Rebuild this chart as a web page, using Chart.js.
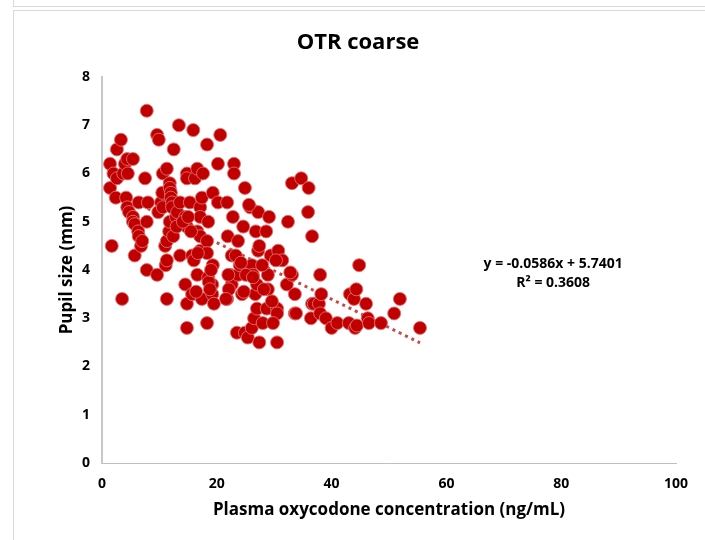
<!DOCTYPE html>
<html>
<head>
<meta charset="utf-8">
<script src="https://cdn.jsdelivr.net/npm/chart.js@4.4.0/dist/chart.umd.min.js"></script>
<style>
  body { margin: 0; background: #fff; }
  #prev { position: absolute; left: 13px; top: -10px; width: 700px; height: 15px; border: 1px solid #d9d9d9; }
  #box { position: absolute; left: 13px; top: 10px; width: 700px; height: 540px; border: 1px solid #d9d9d9; }
  #wrap { position: absolute; left: 13px; top: 10px; width: 690px; height: 530px; }
</style>
</head>
<body>
<div id="prev"></div>
<div id="box"></div>
<div id="wrap"><canvas id="scatterCanvas" width="690" height="530"></canvas></div>
<script>
// valeurs
const concentration = [
  1.4, 1.4, 1.7, 2.0, 2.4, 2.6, 2.6, 3.3, 3.5, 3.7, 4.0, 4.4, 4.5, 4.2, 4.4, 4.7, 5.4, 5.4, 5.4, 5.7,
  5.7, 6.3, 6.4, 6.4, 6.8, 7.0, 7.5, 7.8, 7.8, 7.8, 8.0, 9.6, 9.6, 9.9, 9.8, 10.3, 10.5, 10.6, 10.6, 11.0,
  11.1, 11.3, 11.3, 11.3, 11.3, 11.7, 11.8, 11.8, 11.8, 12.0, 12.0, 12.2, 12.2, 12.4, 12.5, 12.9, 13.1, 13.4, 13.6, 13.6,
  14.5, 14.5, 14.8, 14.8, 14.8, 14.8, 14.8, 15.3, 15.7, 15.7, 15.9, 16.2, 16.6, 16.6, 16.6, 17.1, 17.1, 17.1, 17.1, 17.4,
  17.4, 17.6, 18.3, 18.3, 18.3, 18.3, 18.5, 18.5, 19.2, 19.2, 19.3, 19.3, 19.5, 20.2, 20.2, 20.6, 21.8, 21.8, 21.9, 22.3,
  22.6, 22.6, 22.8, 23.0, 23.0, 23.5, 23.7, 23.7, 24.0, 24.4, 24.6, 24.9, 24.9, 25.4, 25.8, 26.1, 26.1, 26.3, 26.5, 26.7,
  26.8, 27.0, 27.0, 27.2, 27.2, 27.4, 27.4, 28.0, 28.6, 28.7, 28.9, 28.9, 29.1, 29.4, 30.5, 30.5, 30.5, 30.7, 31.4, 32.2,
  32.4, 33.1, 33.1, 33.6, 33.6, 34.7, 35.9, 36.0, 36.4, 36.6, 36.6, 36.9, 37.8, 38.0, 38.0, 38.2, 39.0, 40.0, 41.0, 43.0,
  43.2, 43.9, 44.1, 44.3, 44.4, 44.8, 46.0, 46.3, 46.5, 48.6, 50.9, 51.9, 55.4,
  13.0, 14.1, 15.0, 15.5, 16.0, 16.7, 18.6, 18.8, 19.0, 22.0, 23.3, 24.2, 25.1, 26.3, 27.9, 28.2, 29.6, 29.8, 30.3, 33.8,
  32.8, 16.4, 22.1, 21.6, 24.7, 25.6
]
const pupilSize = [
  6.2, 5.7, 4.5, 6.0, 5.5, 5.9, 6.5, 6.7, 3.4, 6.0, 6.2, 6.3, 6.0, 5.5, 5.3, 5.2, 5.1, 6.3, 5.0, 4.95,
  4.3, 4.8, 4.7, 5.4, 4.5, 4.6, 5.9, 7.3, 5.0, 4.0, 5.4, 3.9, 6.8, 6.7, 5.2, 5.4, 5.6, 6.0, 5.3, 4.5,
  4.1, 3.4, 6.1, 4.6, 4.2, 4.8, 5.8, 5.7, 5.0, 5.6, 5.5, 5.4, 5.3, 4.7, 6.5, 5.1, 5.2, 7.0, 5.4, 4.3,
  5.1, 3.7, 6.0, 5.9, 4.9, 3.3, 2.8, 5.4, 4.3, 3.5, 6.9, 5.9, 6.1, 4.8, 3.9, 5.3, 5.1, 4.7, 4.4, 5.5,
  3.4, 6.0, 6.6, 4.6, 4.35, 2.9, 5.0, 3.85, 3.7, 3.5, 5.6, 4.1, 3.3, 6.2, 5.4, 6.8, 5.4, 3.4, 4.7, 3.9,
  4.3, 3.7, 5.1, 6.2, 6.0, 2.7, 4.6, 3.9, 4.1, 3.5, 4.9, 5.7, 2.7, 2.6, 5.3, 4.1, 2.8, 3.9, 3.0, 3.5,
  4.8, 3.7, 3.2, 5.2, 4.4, 4.5, 2.5, 2.9, 4.8, 3.2, 3.9, 3.6, 5.1, 4.3, 3.2, 3.1, 2.5, 4.4, 4.2, 3.7,
  5.0, 5.8, 3.9, 3.5, 3.1, 5.9, 5.2, 5.7, 3.0, 4.7, 3.3, 3.3, 3.3, 3.9, 3.1, 3.5, 3.0, 2.8, 2.9, 2.9,
  3.5, 3.4, 2.8, 3.6, 2.85, 4.1, 3.3, 3.0, 2.9, 2.9, 3.1, 3.4, 2.8,
  4.9, 5.0, 5.1, 4.8, 4.2, 4.35, 3.75, 3.6, 4.0, 3.9, 4.3, 4.15, 3.9, 3.85, 4.1, 3.6, 3.35, 2.9, 4.2, 3.1,
  3.95, 3.55, 3.6, 3.4, 3.55, 5.35
]
// courbe de tendance (extrémités lues)
const trendX = [1.4, 55.4]
const trendY = [5.66, 2.49]
const xTicks = [0, 20, 40, 60, 80, 100]
const yTicks = [0, 1, 2, 3, 4, 5, 6, 7, 8]
const equationText = ['y = -0.0586x + 5.7401', 'R² = 0.3608']

const fontFamily = "'Open Sans', 'Liberation Sans', sans-serif"

const points = concentration.map((x, i) => ({ x: x, y: pupilSize[i] }))
const trend = trendX.map((x, i) => ({ x: x, y: trendY[i] }))

// texte de l'équation
const equationPlugin = {
    id: 'equation',
    afterDatasetsDraw(chart) {
        const ctx = chart.ctx
        const xs = chart.scales.x
        const ys = chart.scales.y
        ctx.save()
        ctx.font = "bold 14px " + fontFamily
        ctx.fillStyle = '#000'
        ctx.textAlign = 'center'
        ctx.textBaseline = 'middle'
        ctx.fillText(equationText[0], xs.getPixelForValue(78.6), ys.getPixelForValue(4.12))
        ctx.fillText(equationText[1], xs.getPixelForValue(78.6), ys.getPixelForValue(3.73))
        ctx.restore()
    }
}

const scatterCanvas = document.getElementById('scatterCanvas')
const scatterChart = new Chart(scatterCanvas, {
    type: 'scatter',
    data: {
        datasets: [{
            label: 'Pupil size',
            data: points,
            backgroundColor: '#c00000',
            borderColor: 'rgba(225,110,110,0.9)',
            borderWidth: 1,
            pointRadius: 6.5,
            order: 1
        }, {
            type: 'line',
            label: 'Trend',
            data: trend,
            borderColor: 'rgba(192,40,40,0.85)',
            borderWidth: 3,
            borderDash: [3, 4],
            borderCapStyle: 'butt',
            pointRadius: 0,
            fill: false,
            order: 2
        }]
    },
    options: {
        responsive: false,
        animation: false,
        devicePixelRatio: 1,
        layout: { padding: 0 },
        plugins: {
            legend: { display: false },
            tooltip: { enabled: false },
            title: {
                display: true,
                text: 'OTR coarse',
                color: '#000',
                font: { family: fontFamily, size: 22, weight: 'bold' },
                padding: { top: 20, bottom: 20.6 }
            }
        },
        scales: {
            x: {
                type: 'linear',
                min: 0,
                max: 100,
                afterBuildTicks: scale => { scale.ticks = xTicks.map(v => ({ value: v })) },
                afterFit: scale => {
                    scale.height = 77
                    scale.paddingRight = 27
                },
                grid: { display: false, drawTicks: false },
                border: { display: true, color: '#bfbfbf', width: 1 },
                ticks: {
                    padding: 13,
                    color: '#000',
                    font: { family: fontFamily, size: 14, weight: 'bold' }
                },
                title: {
                    display: true,
                    text: 'Plasma oxycodone concentration (ng/mL)',
                    color: '#000',
                    font: { family: fontFamily, size: 17, weight: 'bold' },
                    padding: { top: 0, bottom: 20 }
                }
            },
            y: {
                type: 'linear',
                min: 0,
                max: 8,
                afterBuildTicks: scale => { scale.ticks = yTicks.map(v => ({ value: v })) },
                afterFit: scale => { scale.width = 89 },
                grid: { display: false, drawTicks: false },
                border: { display: true, color: '#c8c8c8', width: 2 },
                ticks: {
                    padding: 12,
                    color: '#000',
                    font: { family: fontFamily, size: 14, weight: 'bold' }
                },
                title: {
                    display: true,
                    text: 'Pupil size (mm)',
                    color: '#000',
                    font: { family: fontFamily, size: 17, weight: 'bold' },
                    padding: { top: 44, bottom: 0 }
                }
            }
        }
    },
    plugins: [equationPlugin]
})
</script>
</body>
</html>
